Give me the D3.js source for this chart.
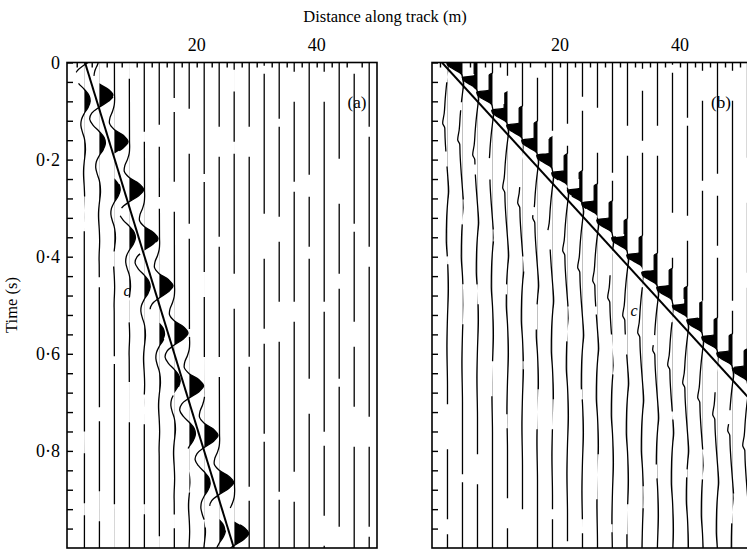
<!DOCTYPE html>
<html><head><meta charset="utf-8">
<script src="https://cdn.jsdelivr.net/npm/d3@7"></script>
<style>
body{margin:0;background:#fff}
svg{display:block}
text{font-family:"Liberation Serif","Times New Roman",serif;fill:#000}
</style>
</head><body><svg id="c" width="747" height="550"></svg>
<script>
// ---------- data ----------
const xTickLabels = [20, 40];
const yTickValues = [0, 0.2, 0.4, 0.6, 0.8];
const yTickLabels = ["0", "0·2", "0·4", "0·6", "0·8"];

// geophone (trace) positions along track, m
const traceDistA = [1.25, 3.75, 6.25, 8.75, 11.25, 13.75, 16.25, 18.75, 21.25, 23.75,
                    26.25, 28.75, 31.25, 33.75, 36.25, 38.75, 41.25, 43.75, 46.25, 48.75];
const traceDistB = [1.25, 3.75, 6.25, 8.75, 11.25, 13.75, 16.25, 18.75, 21.25, 23.75,
                    26.25, 28.75, 31.25, 33.75, 36.25, 38.75, 41.25, 43.75, 46.25, 48.75, 51.25];

// panel (a): time of main positive lobe per trace (s), null = no arrival inside window
const aArrival = [-0.02, 0.067, 0.163, 0.262, 0.363, 0.46, 0.557, 0.666, 0.768, 0.865, 0.97,
                  null, null, null, null, null, null, null, null, null];
// panel (a): peak deflection per trace (m)
const aAmp = [2.3, 2.4, 2.3, 2.4, 2.3, 2.3, 2.3, 2.4, 2.3, 2.4, 2.4, 0, 0, 0, 0, 0, 0, 0, 0, 0];
// panel (a): recorded wavelet shape (relative time s, normalised amplitude)
const aWaveT = [-0.1, -0.0875, -0.075, -0.0625, -0.05, -0.0375, -0.025, -0.0125, 0, 0.0125,
                0.025, 0.0375, 0.05, 0.0625, 0.075, 0.0875, 0.1, 0.1125, 0.125, 0.1375,
                0.15, 0.1625, 0.175, 0.1875, 0.2, 0.2125, 0.225, 0.2375, 0.25, 0.2625,
                0.275, 0.2875, 0.3, 0.3125, 0.325, 0.3375, 0.35];
const aWaveV = [0.02, 0.03, 0, -0.12, -0.3, -0.34, 0, 0.68, 1, 0.66,
                0, -0.52, -0.66, -0.42, 0, 0.34, 0.43, 0.28, 0, -0.2,
                -0.24, -0.14, 0, 0.07, 0.09, 0.05, 0, -0.04, -0.05, -0.03,
                0, 0.02, 0.03, 0.02, 0, -0.01, 0];

// panel (b): onset time of the sharp pulse per trace (s)
const bFlagTime = [-0.035, -0.001, 0.03, 0.061, 0.098, 0.129, 0.16, 0.191, 0.227, 0.262,
                   0.289, 0.324, 0.361, 0.396, 0.432, 0.463, 0.5, 0.53, 0.565, 0.598, 0.629];
// panel (b): deflection scale per trace (m)
const bAmp = [2.5, 2.5, 2.5, 2.5, 2.5, 2.5, 2.5, 2.5, 2.5, 2.5,
              2.5, 2.5, 2.5, 2.5, 2.5, 2.5, 2.5, 2.5, 2.5, 2.5, 2.5];
// panel (b): pulse + trailing dispersive wave (relative time s, normalised amplitude)
const bWaveT = [-0.04, -0.035, -0.004, 0, 0.006, 0.012, 0.026, 0.032, 0.045, 0.06,
                0.08, 0.11, 0.14, 0.16, 0.17, 0.19, 0.23, 0.27, 0.3, 0.32,
                0.36, 0.4, 0.44, 0.5, 0.56, 0.62, 0.7];
const bWaveV = [0, -0.22, -0.22, -1.05, -1.0, -0.75, -0.05, 0, 0.08, 0.02,
                -0.06, -0.15, -0.22, -0.32, -0.18, -0.16, -0.08, 0.02, 0.08, 0.02,
                -0.06, -0.08, 0, 0.06, 0, -0.04, 0];

// straight lines marking the moving source
const aLineDist = [1.38, 26.2];
const aLineTime = [0, 1.0];
const bLineDist = [0.33, 52.5];
const bLineTime = [0, 0.705];

const markLabels = ["(a)", "(b)"];
const waveLabel = "c";

// ---------- layout / style ----------
const dashStyles = ["120 14 70 30 200 10", "60 40 150 8 90 25", "200 22 50 12 120 35",
                    "90 8 140 45 70 15", "150 30 80 10 110 20"];
const svg = d3.select("#c");
const defs = svg.append("defs");
const y = d3.scaleLinear().domain([0, 1]).range([62.5, 548]);
const xA = d3.scaleLinear().domain([-1.62, 50.05]).range([67, 377]);
const xB = d3.scaleLinear().domain([-1.33, 51.8]).range([432, 750.8]);

function panel(id, x, right) {
  defs.append("clipPath").attr("id", id).append("rect")
    .attr("x", x.range()[0]).attr("y", y.range()[0])
    .attr("width", right - x.range()[0]).attr("height", y.range()[1] - y.range()[0]);
  return svg.append("g").attr("clip-path", `url(#${id})`);
}

function pts(T, amp, wT, wV) {
  const p = [{t: -0.5, v: 0}];
  if (T !== null && amp) wT.forEach((tau, i) => p.push({t: T + tau, v: amp * wV[i]}));
  p.push({t: 2.0, v: 0});
  return p;
}

function drawTraces(g, x, dists, getPts, clipFn, prefix, curve) {
  dists.forEach((d, k) => {
    const p = getPts(k);
    const cid = prefix + k;
    const cp = defs.append("clipPath").attr("id", cid);
    clipFn(cp, d, k);
    const area = d3.area().y(q => y(q.t)).x0(x(d)).x1(q => x(d + q.v)).curve(curve);
    g.append("path").attr("d", area(p)).attr("fill", "#000")
      .attr("clip-path", `url(#${cid})`);
    const line = d3.line().x(q => x(d + q.v)).y(q => y(q.t)).curve(curve);
    g.append("path").attr("d", line(p)).attr("fill", "none")
      .attr("stroke", "#000").attr("stroke-width", 1.3)
      .attr("stroke-dasharray", dashStyles[(k * 3 + prefix.length) % dashStyles.length])
      .attr("stroke-dashoffset", -(k * 53) % 160);
  });
}

// panel (a)
const gA = panel("pa", xA, 377);
drawTraces(gA, xA, traceDistA, k => pts(aArrival[k], aAmp[k], aWaveT, aWaveV),
  (cp, d) => cp.append("rect").attr("x", xA(d)).attr("y", 0).attr("width", 120).attr("height", 600),
  "fa", d3.curveCatmullRom);
gA.append("line")
  .attr("x1", xA(aLineDist[0])).attr("y1", y(aLineTime[0]))
  .attr("x2", xA(aLineDist[1])).attr("y2", y(aLineTime[1]))
  .attr("stroke", "#000").attr("stroke-width", 2);

// panel (b)
const gB = panel("pb", xB, 760);
drawTraces(gB, xB, traceDistB, k => pts(bFlagTime[k], bAmp[k], bWaveT, bWaveV),
  (cp, d, k) => {
    cp.append("rect").attr("x", xB(d)).attr("y", 0).attr("width", 120).attr("height", 600);
    const t0 = y(bFlagTime[k] - 0.05), t1 = y(bFlagTime[k] + 0.035);
    cp.append("rect").attr("x", xB(d) - 60).attr("y", t0).attr("width", 60).attr("height", t1 - t0);
  },
  "fbb", d3.curveMonotoneY);
gB.append("line")
  .attr("x1", xB(bLineDist[0])).attr("y1", y(bLineTime[0]))
  .attr("x2", xB(bLineDist[1])).attr("y2", y(bLineTime[1]))
  .attr("stroke", "#000").attr("stroke-width", 2);

// frames, ticks
function frame(x, right, maxTick) {
  const x0 = x.range()[0];
  svg.append("rect").attr("x", x0).attr("y", y.range()[0])
    .attr("width", right - x0).attr("height", y.range()[1] - y.range()[0])
    .attr("fill", "none").attr("stroke", "#000").attr("stroke-width", 1.6);
  const ax = d3.axisBottom(x).tickValues(d3.range(0, maxTick + 0.1, 2.5)).tickSize(5).tickFormat("");
  const gx = svg.append("g").attr("transform", `translate(0,${y.range()[0]})`).call(ax);
  gx.select(".domain").remove();
  gx.selectAll("line").attr("stroke-width", 1.4);
  const ay = d3.axisRight(y).tickValues(d3.range(0, 0.99, 0.04)).tickSize(6).tickFormat("");
  const gy = svg.append("g").attr("transform", `translate(${x0},0)`).call(ay);
  gy.select(".domain").remove();
  gy.selectAll("line").attr("stroke-width", 1.4);
  xTickLabels.forEach(v => svg.append("text").attr("x", x(v)).attr("y", 51)
    .attr("text-anchor", "middle").attr("font-size", 18).text(v));
}
frame(xA, 377, 47.5);
frame(xB, 760, 50);

yTickValues.forEach((v, i) => svg.append("text").attr("x", 60).attr("y", y(v) + 6)
  .attr("text-anchor", "end").attr("font-size", 18).text(yTickLabels[i]));

svg.append("text").attr("x", 385).attr("y", 22).attr("text-anchor", "middle")
  .attr("font-size", 16.5).text("Distance along track (m)");
svg.append("text").attr("transform", "translate(17,305) rotate(-90)")
  .attr("text-anchor", "middle").attr("font-size", 16.5).text("Time (s)");

svg.append("text").attr("x", 357).attr("y", 108).attr("text-anchor", "middle")
  .attr("font-size", 17).text(markLabels[0]);
svg.append("text").attr("x", 721).attr("y", 108).attr("text-anchor", "middle")
  .attr("font-size", 17).text(markLabels[1]);
svg.append("text").attr("x", 127).attr("y", 296).attr("text-anchor", "middle")
  .attr("font-size", 16).attr("font-style", "italic").text(waveLabel);
svg.append("text").attr("x", 634).attr("y", 316).attr("text-anchor", "middle")
  .attr("font-size", 16).attr("font-style", "italic").text(waveLabel);
</script>
</body></html>
